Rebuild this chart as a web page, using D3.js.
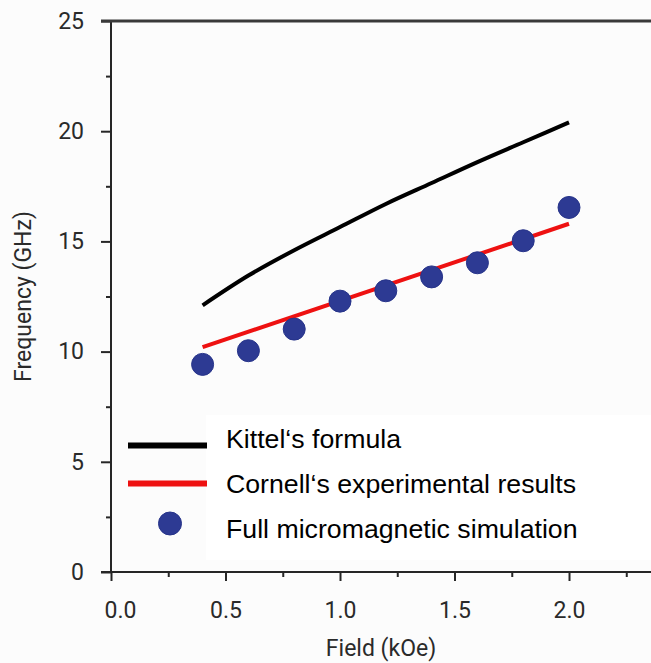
<!DOCTYPE html>
<html>
<head>
<meta charset="utf-8">
<script src="https://cdn.jsdelivr.net/npm/d3@7"></script>
<style>
  html, body { margin: 0; padding: 0; background: #fcfcfc; }
  svg { display: block; }
</style>
</head>
<body>
<script>
// ---- data ----
const fieldKittel = [0.4, 0.6, 0.8, 1.0, 1.2, 1.4, 1.6, 1.8, 2.0];
const freqKittel  = [12.1, 13.45, 14.6, 15.65, 16.7, 17.65, 18.6, 19.5, 20.4];
const fieldCornell = [0.4, 2.0];
const freqCornell  = [10.2, 15.8];
const fieldSim = [0.4, 0.6, 0.8, 1.0, 1.2, 1.4, 1.6, 1.8, 2.0];
const freqSim  = [9.42, 10.04, 11.02, 12.29, 12.76, 13.39, 14.03, 15.03, 16.54];
const xMajorTicks = [0, 0.5, 1.0, 1.5, 2.0];
const xMinorTicks = [0.25, 0.75, 1.25, 1.75, 2.25];
const yMajorTicks = [0, 5, 10, 15, 20, 25];
const yMinorTicks = [2.5, 7.5, 12.5, 17.5, 22.5];
const legendLabels = ["Kittel\u2018s formula", "Cornell\u2018s experimental results", "Full micromagnetic simulation"];
const xTitle = "Field (kOe)";
const yTitle = "Frequency (GHz)";

// ---- layout ----
const W = 651, H = 663;
const x = d3.scaleLinear().domain([0, 2.358]).range([111, 651]);
const y = d3.scaleLinear().domain([0, 25]).range([572, 21]);
const axisColor = "#262626";
const dotColor = "#2d3a93";

const svg = d3.select("body").append("svg").attr("width", W).attr("height", H);

// legend white panel
svg.append("rect").attr("x", 206).attr("y", 415).attr("width", W - 206).attr("height", 145).attr("fill", "#ffffff");

// axes
const gx = svg.append("g").attr("transform", `translate(0,${y(0)})`);
gx.call(d3.axisBottom(x).tickValues(xMajorTicks).tickSize(9).tickFormat(d3.format(".1f")));
gx.select(".domain").remove();
gx.selectAll(".tick line").attr("stroke", axisColor).attr("stroke-width", 2);
gx.selectAll(".tick text").attr("font-family", "Roboto").attr("font-size", 23).attr("fill", "#2a2a2a")
  .attr("y", 46).attr("dy", 0)
  .attr("dx", d => d === 0 ? 9 : 0);
const gxm = svg.append("g").attr("transform", `translate(0,${y(0)})`);
gxm.call(d3.axisBottom(x).tickValues(xMinorTicks).tickSize(5).tickFormat(""));
gxm.select(".domain").remove();
gxm.selectAll(".tick line").attr("stroke", axisColor).attr("stroke-width", 2);

const gy = svg.append("g").attr("transform", `translate(${x(0)},0)`);
gy.call(d3.axisLeft(y).tickValues(yMajorTicks).tickSize(10).tickPadding(17).tickFormat(d3.format("d")));
gy.select(".domain").remove();
gy.selectAll(".tick line").attr("stroke", axisColor).attr("stroke-width", 2);
gy.selectAll(".tick text").attr("font-family", "Roboto").attr("font-size", 23).attr("fill", "#2a2a2a");
const gym = svg.append("g").attr("transform", `translate(${x(0)},0)`);
gym.call(d3.axisLeft(y).tickValues(yMinorTicks).tickSize(5).tickFormat(""));
gym.select(".domain").remove();
gym.selectAll(".tick line").attr("stroke", axisColor).attr("stroke-width", 2);

// axis lines
svg.append("line").attr("x1", x(0)).attr("x2", x(0)).attr("y1", y(25)).attr("y2", y(0))
  .attr("stroke", axisColor).attr("stroke-width", 2);
svg.append("line").attr("x1", x(0) - 10).attr("x2", W).attr("y1", y(0)).attr("y2", y(0))
  .attr("stroke", axisColor).attr("stroke-width", 2);
svg.append("line").attr("x1", x(0) - 10).attr("x2", W).attr("y1", y(25)).attr("y2", y(25))
  .attr("stroke", "#3a3a3a").attr("stroke-width", 3);

// titles
svg.append("text").attr("x", (x(0) + W) / 2).attr("y", 656).attr("text-anchor", "middle")
  .attr("font-family", "Roboto").attr("font-size", 23).attr("fill", "#2a2a2a").text(xTitle);
svg.append("text").attr("transform", `translate(31,${(y(0) + y(25)) / 2}) rotate(-90)`)
  .attr("text-anchor", "middle").attr("font-family", "Roboto").attr("font-size", 23).attr("fill", "#2a2a2a").text(yTitle);

// series
const line = d3.line().x(d => x(d[0])).y(d => y(d[1]));
svg.append("path").datum(d3.zip(fieldKittel, freqKittel)).attr("d", line.curve(d3.curveMonotoneX))
  .attr("fill", "none").attr("stroke", "#000").attr("stroke-width", 4);
svg.append("path").datum(d3.zip(fieldCornell, freqCornell)).attr("d", d3.line().x(d => x(d[0])).y(d => y(d[1])))
  .attr("fill", "none").attr("stroke", "#ee1111").attr("stroke-width", 4);
svg.append("g").selectAll("circle").data(d3.zip(fieldSim, freqSim)).join("circle")
  .attr("cx", d => x(d[0])).attr("cy", d => y(d[1])).attr("r", 11)
  .attr("fill", dotColor).attr("stroke", "#27348a").attr("stroke-width", 1);

// legend
const lg = svg.append("g");
lg.append("line").attr("x1", 128).attr("x2", 207).attr("y1", 445.5).attr("y2", 445.5).attr("stroke", "#000").attr("stroke-width", 6);
lg.append("line").attr("x1", 128).attr("x2", 207).attr("y1", 483.5).attr("y2", 483.5).attr("stroke", "#ee1111").attr("stroke-width", 6);
lg.append("circle").attr("cx", 170).attr("cy", 523.5).attr("r", 11.5).attr("fill", dotColor).attr("stroke", "#27348a").attr("stroke-width", 1);
const baselines = [448, 493, 538];
lg.selectAll("text.leg").data(legendLabels).join("text").attr("class", "leg")
  .attr("x", 226).attr("y", (d, i) => baselines[i])
  .attr("font-family", "Liberation Sans, Arial, sans-serif").attr("font-size", 26.7).attr("fill", "#000")
  .text(d => d);
</script>
</body>
</html>
